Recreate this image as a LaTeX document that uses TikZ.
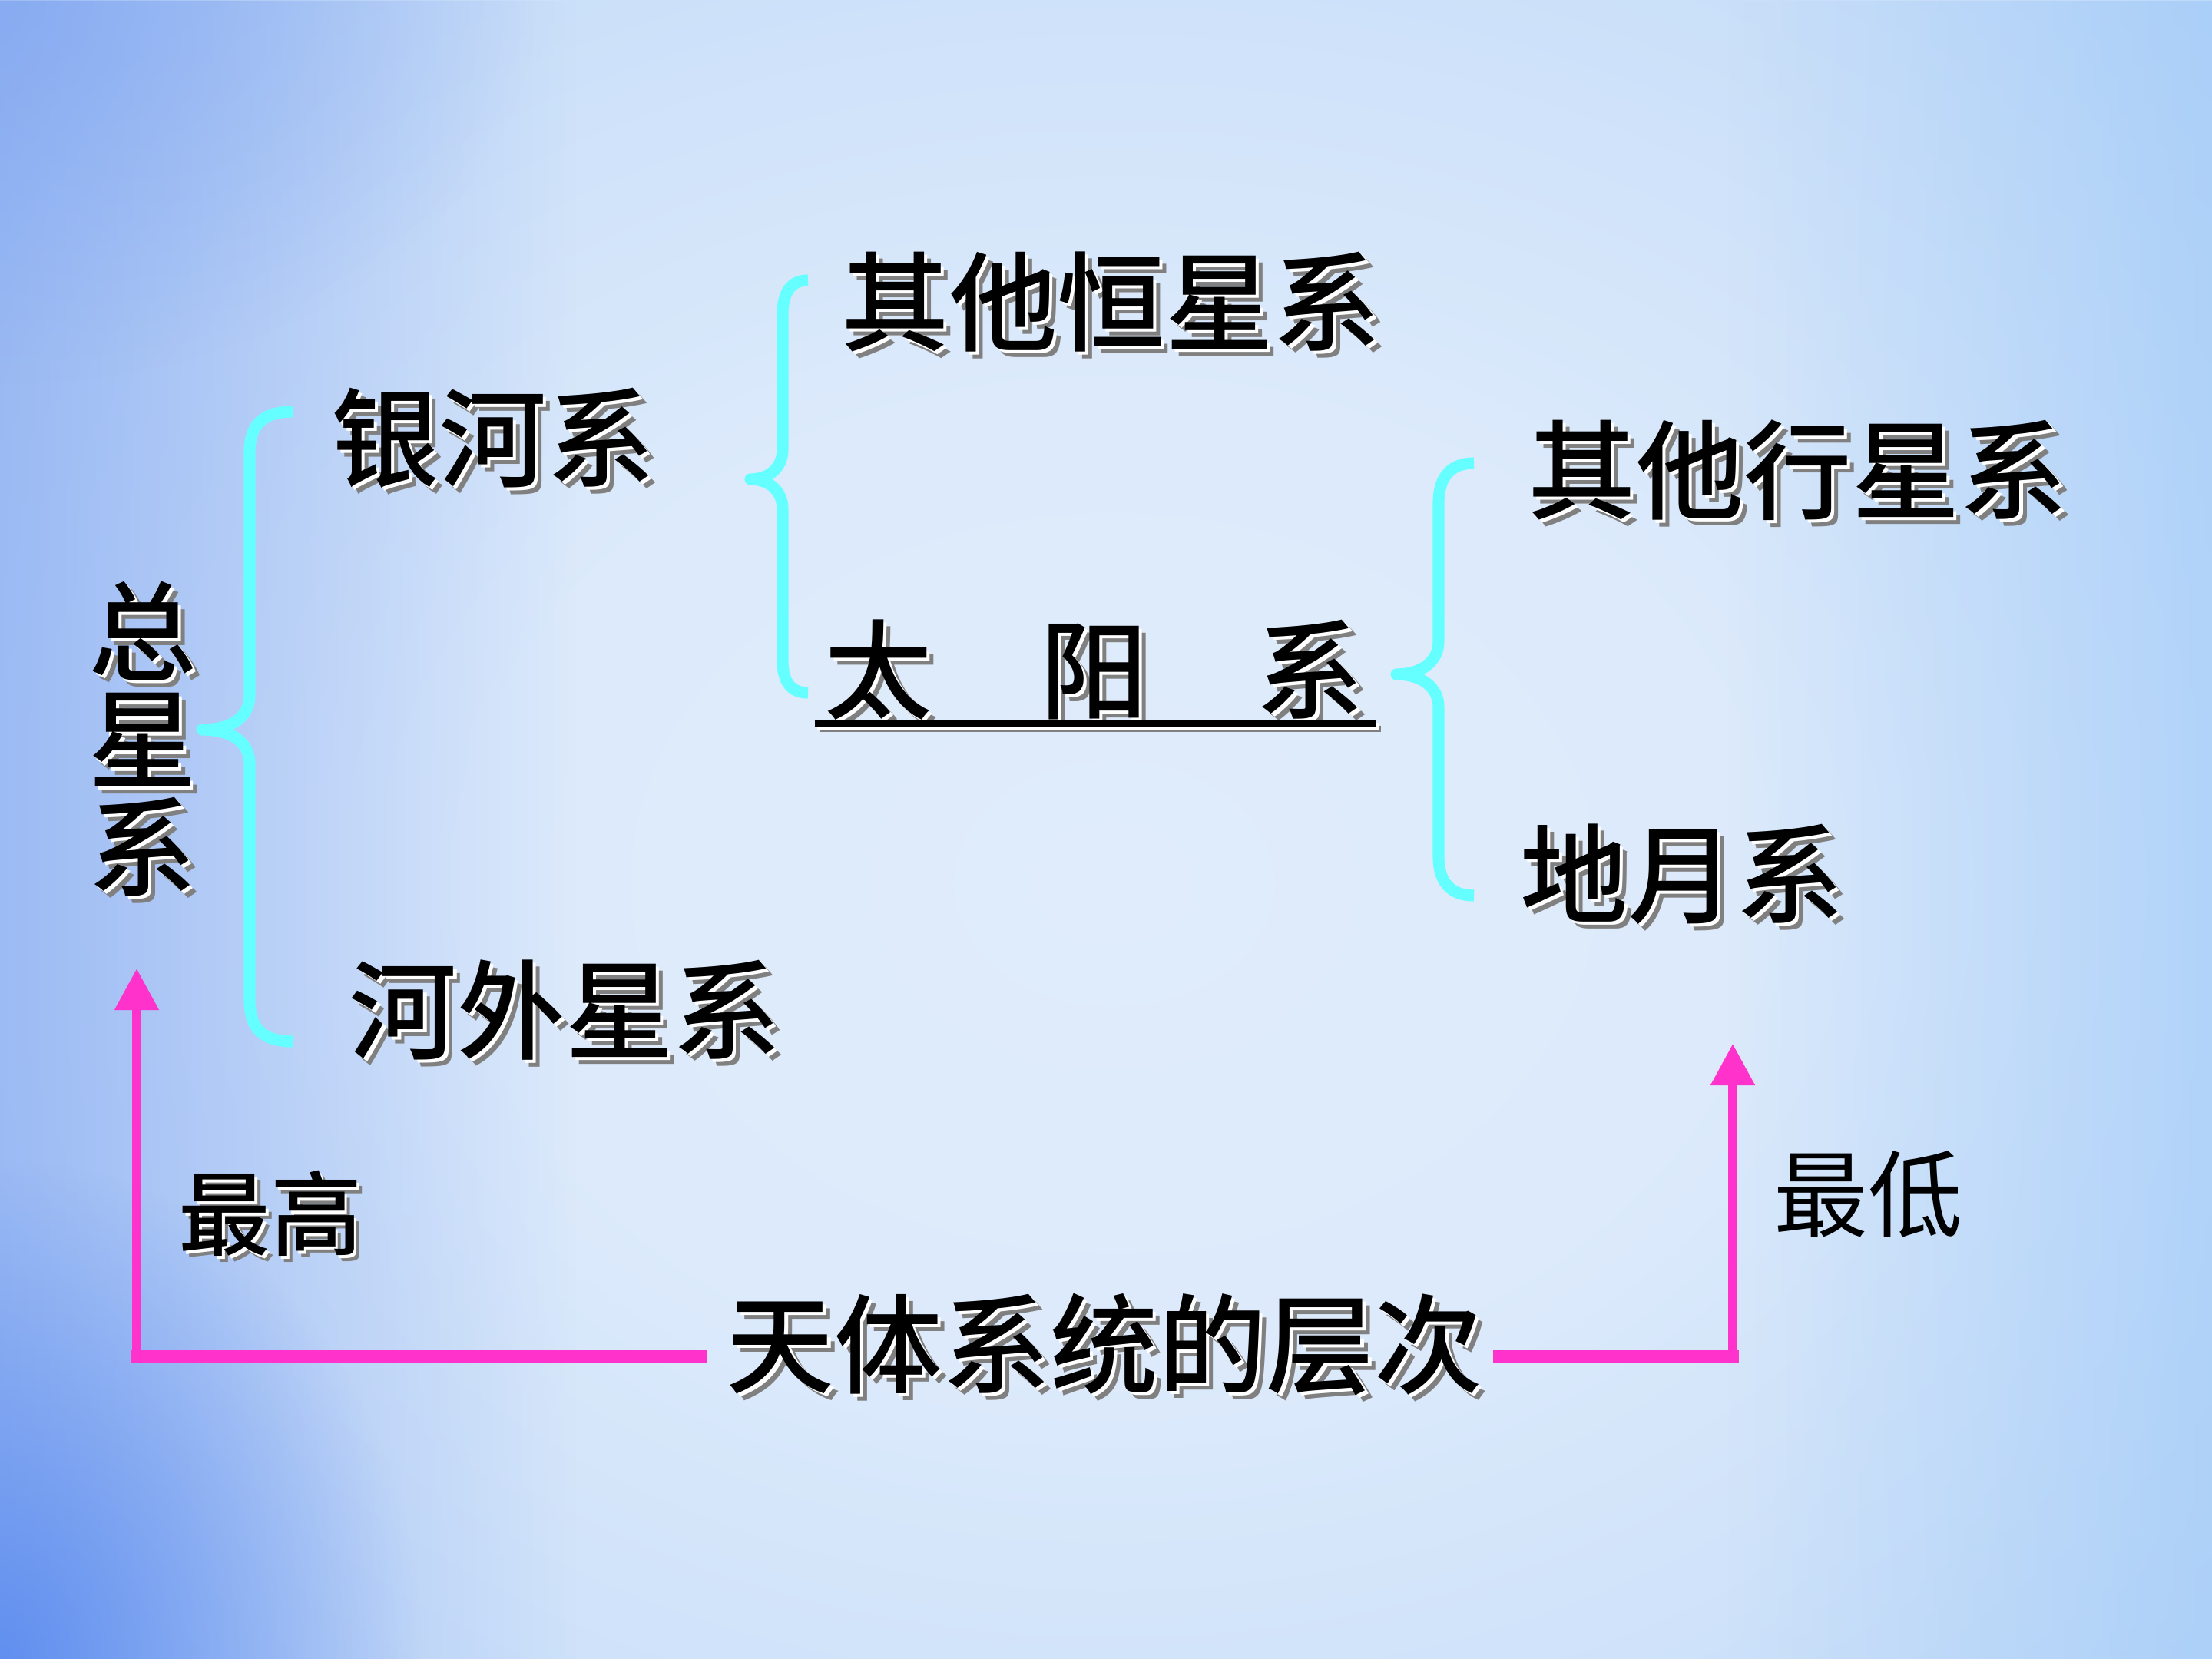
\documentclass[tikz,border=0pt]{standalone}
\usepackage{fontspec}
\newfontfamily\cjk{Noto Sans CJK SC}
\newfontfamily\cjkm{Noto Sans CJK SC Medium}
\usetikzlibrary{arrows.meta,fadings}
\definecolor{bgc}{HTML}{E0ECFB}
\definecolor{bgq}{HTML}{DCEAFB}
\definecolor{bgm}{HTML}{C8DEF9}
\definecolor{bge}{HTML}{B0D0F8}
\definecolor{leftblue}{HTML}{7AA0F0}
\definecolor{cornerblue}{HTML}{4F82EE}
\definecolor{rightblue}{HTML}{94C4F8}
\definecolor{braceC}{HTML}{66FFFF}
\definecolor{magC}{HTML}{FF33CC}
\definecolor{shgray}{HTML}{808080}
\pgfdeclareradialshading{bgshade}{\pgfpoint{0bp}{0bp}}{color(0bp)=(bgc); color(14bp)=(bgq); color(30bp)=(bgm); color(44bp)=(bge); color(50bp)=(bge)}
\tikzfading[name=fadeR, left color=transparent!0, right color=transparent!100]
\tikzfading[name=fadeL, left color=transparent!100, right color=transparent!0]
\tikzfading[name=fadeC, inner color=transparent!0, outer color=transparent!100]
\newcommand\shtx[1]{\makebox[0pt][l]{\kern0.065em\raisebox{-0.065em}[0pt][0pt]{\color{shgray}#1}}\makebox[0pt][l]{\kern0.03em\raisebox{-0.03em}[0pt][0pt]{\color{white}#1}}#1}
\tikzset{
  lbl/.style={inner sep=0pt, text=black, font=\cjkm\fontsize{40}{40}\selectfont},
  sml/.style={inner sep=0pt, text=black, font=\cjkm\fontsize{34}{34}\selectfont},
  plain/.style={inner sep=0pt, text=black, font=\cjk\fontsize{35}{35}\selectfont},
  brace/.style={draw=braceC, line width=4.3pt, line join=round},
  magH/.style={draw=magC, line width=4.8pt},
  magV/.style={draw=magC, line width=3.2pt, -{Triangle[width=0.55cm,length=0.54cm]}},
}
\begin{document}
\begin{tikzpicture}
\useasboundingbox (0,0) rectangle (28.8,-21.6);
% background
\begin{scope}
\clip (0,0) rectangle (28.8,-21.6);
\shade[shading=bgshade] (-0.5,0) rectangle (29.5,-23);
\fill[leftblue, path fading=fadeR, fill opacity=0.6] (0,0) rectangle (7.5,-21.6);
\fill[rightblue, path fading=fadeL, fill opacity=0.5] (22.5,0) rectangle (28.8,-21.6);
\fill[leftblue, path fading=fadeC, fill opacity=0.5] (0,0) ellipse (7 and 5);
\fill[cornerblue, path fading=fadeC, fill opacity=0.75] (0,-21.6) ellipse (5.5 and 6.5);
\end{scope}

% texts
\node[lbl] (qhx) at (14.47,-3.93) {\shtx{其他恒星系}};
\node[lbl] (yhx) at (6.42,-5.70) {\shtx{银河系}};
\node[lbl] (qxx) at (23.41,-6.12) {\shtx{其他行星系}};
\node[lbl] (tyx) at (14.25,-8.72) {\shtx{太\quad 阳\quad 系}};
\node[lbl] (dyx) at (21.90,-11.38) {\shtx{地月系}};
\node[lbl] (hwx) at (7.36,-13.15) {\shtx{河外星系}};
\node[lbl, align=center] (zxx) at (1.86,-9.62) {\shtx{总}\\\shtx{星}\\\shtx{系}};
\node[sml] (zg) at (3.52,-15.80) {\shtx{最高}};
\node[plain] (zd) at (24.32,-15.55) {最低};
\node[lbl] (title) at (14.38,-17.50) {\shtx{天体系统的层次}};

% underline of 太阳系
\draw[shgray, line width=2.4pt] ([xshift=-0.06cm,yshift=-0.11cm]tyx.south west) -- ([xshift=0.21cm,yshift=-0.11cm]tyx.south east);
\draw[white, line width=2.4pt] ([xshift=-0.09cm,yshift=-0.075cm]tyx.south west) -- ([xshift=0.18cm,yshift=-0.075cm]tyx.south east);
\draw[black, line width=2.4pt] ([xshift=-0.12cm,yshift=-0.04cm]tyx.south west) -- ([xshift=0.15cm,yshift=-0.04cm]tyx.south east);

% braces
\draw[brace] (3.82,-5.36) .. controls (3.45,-5.36) and (3.25,-5.50) .. (3.25,-5.90) -- (3.25,-9.05) .. controls (3.25,-9.35) and (3.00,-9.50) .. (2.63,-9.50) .. controls (3.00,-9.50) and (3.25,-9.65) .. (3.25,-9.95) -- (3.25,-13.02) .. controls (3.25,-13.42) and (3.45,-13.56) .. (3.82,-13.56);
\draw[brace] (10.52,-3.65) .. controls (10.30,-3.65) and (10.19,-3.80) .. (10.19,-4.10) -- (10.19,-5.85) .. controls (10.19,-6.10) and (10.00,-6.24) .. (9.77,-6.24) .. controls (10.00,-6.24) and (10.19,-6.38) .. (10.19,-6.63) -- (10.19,-8.60) .. controls (10.19,-8.88) and (10.30,-9.02) .. (10.52,-9.02);
\draw[brace] (19.19,-6.03) .. controls (18.90,-6.03) and (18.73,-6.20) .. (18.73,-6.55) -- (18.73,-8.35) .. controls (18.73,-8.62) and (18.50,-8.78) .. (18.18,-8.78) .. controls (18.50,-8.78) and (18.73,-8.94) .. (18.73,-9.21) -- (18.73,-11.15) .. controls (18.73,-11.50) and (18.90,-11.66) .. (19.19,-11.66);

% magenta arrows
\coordinate (cL) at (1.78,-17.66);
\coordinate (tL) at (1.78,-12.61);
\coordinate (cR) at (22.56,-17.66);
\coordinate (tR) at (22.56,-13.59);
\path (title.west |- cL) coordinate (hl);
\path (title.east |- cR) coordinate (hr);
\draw[magH] ([xshift=-0.24cm]hl) -- ([xshift=-0.08cm]cL);
\draw[magV] ([yshift=-0.085cm]cL) -- (tL);
\draw[magH] ([xshift=0.13cm]hr) -- ([xshift=0.075cm]cR);
\draw[magV] ([yshift=-0.085cm]cR) -- (tR);
\end{tikzpicture}
\end{document}
